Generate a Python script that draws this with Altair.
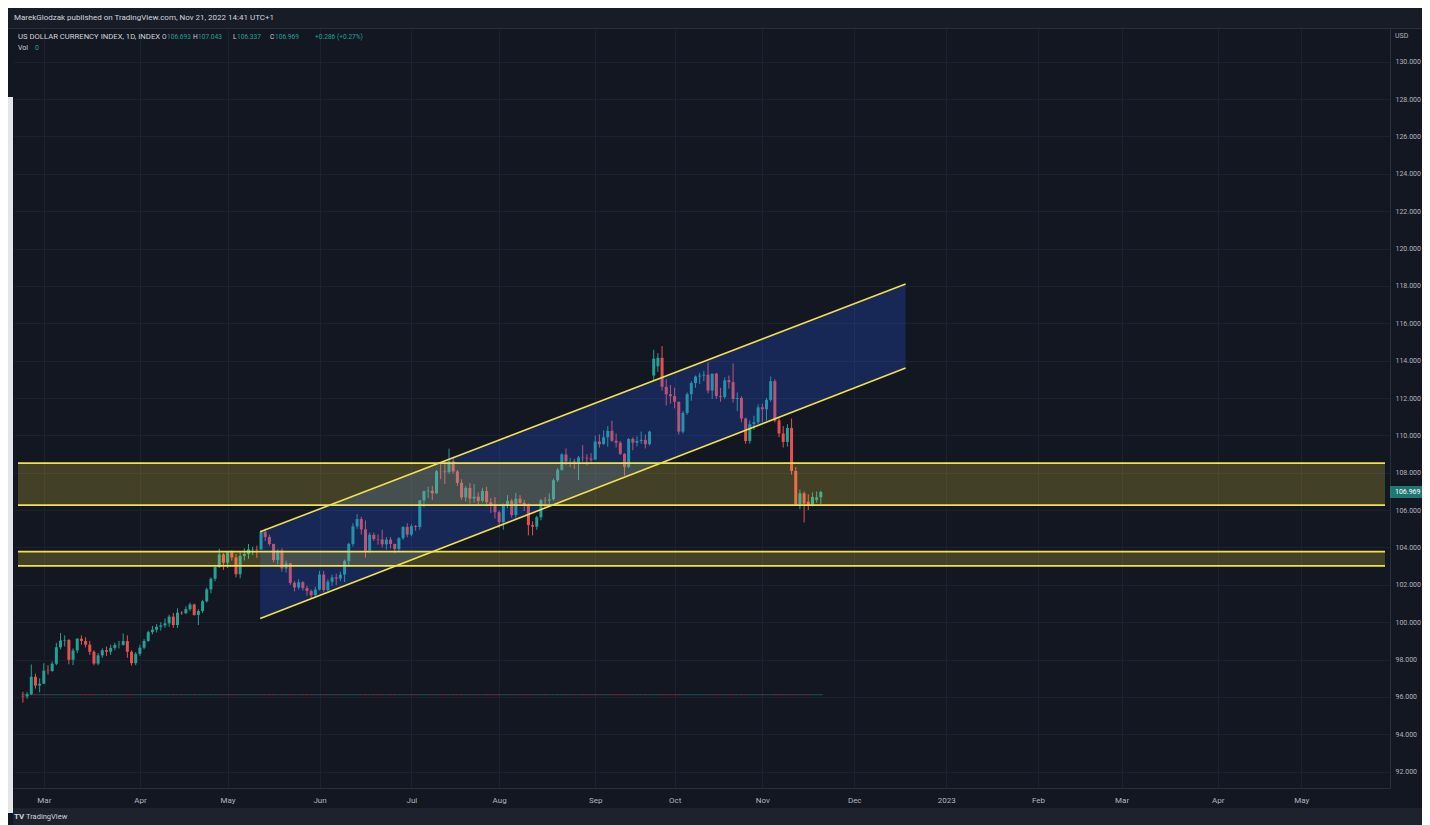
import altair as alt
import pandas as pd
import numpy as np

FONT = "Roboto"
BG = "#131722"
UP = "#23a194"
DOWN = "#e65150"
YEL = "#f2e24a"
TXT = "#b2b5be"
GRID = "#1c2030"
BORDER = "#2a2e39"

# ---------------- data: daily candles (open, high, low, close) ----------------
feb = [(96.05, 96.28, 95.70, 96.03), (96.03, 96.27, 95.90, 96.15), (96.15, 97.74, 96.10, 97.08),
       (97.08, 97.25, 96.45, 96.61), (96.61, 97.00, 96.25, 96.71)]
mar = [(96.71, 97.80, 96.70, 97.41), (97.41, 97.70, 97.20, 97.39), (97.39, 97.90, 97.35, 97.78),
       (97.78, 98.90, 97.70, 98.66), (98.66, 99.42, 98.55, 99.02), (99.02, 99.30, 98.70, 99.05),
       (99.05, 99.10, 97.75, 97.99), (97.99, 98.60, 97.70, 98.49), (98.49, 99.15, 98.35, 99.12),
       (99.12, 99.30, 98.80, 99.00), (99.00, 99.20, 98.65, 98.80), (98.80, 99.00, 98.25, 98.42),
       (98.42, 98.50, 97.70, 97.79), (97.79, 98.35, 97.70, 98.23), (98.23, 98.60, 98.10, 98.50),
       (98.50, 98.70, 98.20, 98.42), (98.42, 98.80, 98.25, 98.63), (98.63, 98.90, 98.50, 98.78),
       (98.78, 99.00, 98.60, 98.79), (98.79, 99.40, 98.75, 98.99), (98.99, 99.30, 98.10, 98.42),
       (98.42, 98.50, 97.68, 97.81), (97.81, 98.40, 97.70, 98.31)]
apr = [(98.31, 98.80, 98.20, 98.64), (98.64, 99.10, 98.55, 99.00), (99.00, 99.55, 98.95, 99.47),
       (99.47, 99.80, 99.35, 99.60), (99.60, 99.90, 99.45, 99.76), (99.76, 100.00, 99.55, 99.83),
       (99.83, 100.20, 99.70, 99.94), (99.94, 100.40, 99.75, 100.30), (100.30, 100.50, 99.70, 99.85),
       (99.85, 100.75, 99.70, 100.51), (100.51, 100.60, 100.40, 100.48), (100.48, 100.85, 100.45, 100.70),
       (100.70, 101.05, 100.60, 100.95), (100.95, 101.00, 100.35, 100.39), (100.39, 100.70, 99.85, 100.60),
       (100.60, 101.20, 100.50, 101.12), (101.12, 101.85, 101.05, 101.76), (101.76, 102.40, 101.55, 102.33),
       (102.33, 103.05, 102.20, 102.95), (102.95, 103.93, 102.90, 103.63), (103.63, 103.70, 102.80, 103.19)]
may = [(103.19, 103.80, 102.90, 103.75), (103.75, 103.85, 103.30, 103.47), (103.47, 103.65, 102.40, 102.57),
       (102.57, 103.75, 102.35, 103.55), (103.55, 103.95, 103.30, 103.66), (103.66, 104.19, 103.40, 103.90),
       (103.90, 104.05, 103.60, 103.92), (103.92, 104.10, 103.45, 103.90), (103.90, 104.92, 103.85, 104.84),
       (104.84, 105.01, 104.35, 104.56), (104.56, 104.68, 104.10, 104.19), (104.19, 104.20, 103.20, 103.33),
       (103.33, 103.90, 103.10, 103.83), (103.83, 103.95, 102.70, 102.88), (102.88, 103.30, 102.65, 103.15),
       (103.15, 103.15, 102.00, 102.11), (102.11, 102.20, 101.65, 101.86), (101.86, 102.30, 101.75, 102.14),
       (102.14, 102.20, 101.70, 101.83), (101.83, 101.95, 101.43, 101.67), (101.67, 101.75, 101.30, 101.45),
       (101.45, 101.90, 101.30, 101.75)]
jun = [(101.75, 102.75, 101.70, 102.55), (102.55, 102.75, 101.60, 101.72), (101.72, 102.30, 101.65, 102.17),
       (102.17, 102.55, 101.95, 102.40), (102.40, 102.60, 102.00, 102.34), (102.34, 102.70, 102.20, 102.55),
       (102.55, 103.35, 102.15, 103.28), (103.28, 104.25, 103.00, 104.19), (104.19, 105.30, 104.05, 105.13),
       (105.13, 105.78, 105.00, 105.52), (105.52, 105.65, 104.70, 104.97), (104.97, 105.45, 103.45, 103.83),
       (103.83, 104.80, 103.70, 104.68), (104.68, 104.80, 104.35, 104.45), (104.45, 104.70, 104.15, 104.43),
       (104.43, 104.95, 104.00, 104.17), (104.17, 104.55, 103.90, 104.42), (104.42, 104.55, 103.95, 104.19),
       (104.19, 104.20, 103.70, 103.92), (103.92, 104.55, 103.80, 104.50), (104.50, 105.15, 104.40, 105.10),
       (105.10, 105.30, 104.55, 104.69)]
jul = [(104.69, 105.25, 104.60, 105.14), (105.14, 105.20, 104.90, 105.10), (105.10, 106.55, 104.95, 106.52),
       (106.52, 107.05, 106.15, 107.01), (107.01, 107.25, 106.65, 107.04), (107.04, 107.30, 106.55, 106.90),
       (106.90, 108.15, 106.85, 108.08), (108.08, 108.55, 107.65, 108.07), (108.07, 108.60, 107.40, 108.03),
       (108.03, 109.29, 107.95, 108.62), (108.62, 108.80, 107.95, 108.07), (108.07, 108.15, 107.30, 107.46),
       (107.46, 107.65, 106.55, 106.68), (106.68, 107.30, 106.45, 107.19), (107.19, 107.45, 106.35, 106.62),
       (106.62, 107.40, 106.40, 106.72), (106.72, 106.95, 106.30, 106.49), (106.49, 107.20, 106.40, 107.02),
       (107.02, 107.25, 106.20, 106.42), (106.42, 106.65, 105.85, 106.27), (106.27, 106.70, 105.55, 105.89)]
aug = [(105.89, 105.98, 105.05, 105.36), (105.36, 106.35, 104.95, 106.26), (106.26, 106.80, 106.10, 106.50),
       (106.50, 106.60, 105.60, 105.74), (105.74, 106.93, 105.55, 106.61), (106.61, 106.80, 106.30, 106.38),
       (106.38, 106.55, 105.95, 106.27), (106.27, 106.35, 104.65, 105.20), (105.20, 105.40, 104.65, 105.12),
       (105.12, 105.70, 104.95, 105.62), (105.62, 106.60, 105.45, 106.53), (106.53, 106.70, 106.15, 106.51),
       (106.51, 106.90, 106.20, 106.58), (106.58, 107.70, 106.50, 107.60), (107.60, 108.25, 107.50, 108.16),
       (108.16, 109.05, 108.10, 108.98), (108.98, 109.30, 108.40, 108.60), (108.60, 108.80, 108.30, 108.61),
       (108.61, 108.75, 108.20, 108.56), (108.56, 108.90, 107.60, 108.82), (108.82, 109.48, 108.60, 108.80),
       (108.80, 109.00, 108.40, 108.76), (108.76, 109.05, 108.55, 108.70)]
sep = [(108.70, 109.99, 108.70, 109.67), (109.67, 110.05, 109.35, 109.53), (109.53, 110.27, 109.50, 109.90),
       (109.90, 110.50, 109.40, 110.24), (110.24, 110.79, 109.65, 109.71), (109.71, 110.10, 109.35, 109.61),
       (109.61, 109.70, 108.95, 109.01), (109.01, 109.05, 107.85, 108.32), (108.32, 109.85, 108.25, 109.81),
       (109.81, 109.90, 109.20, 109.61), (109.61, 109.95, 109.40, 109.70), (109.70, 110.20, 109.55, 109.76),
       (109.76, 110.05, 109.30, 109.53), (109.53, 110.25, 109.45, 110.20), (113.20, 114.58, 112.95, 114.10),
       (113.70, 114.40, 113.40, 114.15), (114.15, 114.78, 112.40, 112.60), (112.60, 113.00, 111.60, 112.20),
       (112.20, 112.70, 111.70, 112.10)]
oct_ = [(112.10, 112.55, 111.45, 111.80), (111.80, 111.80, 110.05, 110.20), (110.20, 111.30, 110.10, 111.20),
        (111.20, 112.30, 111.10, 112.20), (112.20, 112.90, 111.85, 112.80), (112.80, 113.20, 112.55, 113.15),
        (113.15, 113.35, 112.75, 113.20), (113.20, 113.45, 112.90, 113.25), (113.25, 113.90, 112.25, 112.40),
        (112.40, 113.30, 111.95, 113.30), (113.30, 113.35, 111.95, 112.10), (112.10, 112.55, 111.80, 112.05),
        (112.05, 113.10, 111.95, 112.95), (112.95, 113.20, 112.50, 112.85), (112.85, 113.85, 111.75, 111.95),
        (111.95, 112.30, 111.30, 112.00), (112.00, 112.10, 110.70, 110.90), (110.90, 110.95, 109.55, 109.70),
        (109.70, 110.80, 109.55, 110.60), (110.60, 111.05, 110.30, 110.70), (110.70, 111.65, 110.60, 111.50)]
nov = [(111.50, 111.70, 110.70, 111.40), (111.40, 112.00, 110.80, 111.90), (111.90, 113.15, 111.80, 112.90),
       (112.90, 113.00, 110.70, 110.80), (110.80, 111.00, 109.90, 110.10), (110.10, 110.50, 109.35, 109.65),
       (109.65, 110.60, 109.40, 110.40), (110.40, 110.90, 107.90, 108.10), (108.10, 108.30, 106.30, 106.30),
       (106.30, 107.10, 106.05, 106.90), (106.90, 107.00, 105.34, 106.35), (106.45, 106.85, 106.00, 106.25),
       (106.25, 106.95, 106.20, 106.70), (106.55, 107.00, 106.40, 106.68), (106.693, 107.043, 106.337, 106.969)]

FIRST_DAY = "2022-02-22"
LAST_DAY = "2023-06-30"
MISSING_DAYS = ["2022-09-21", "2022-09-22", "2022-09-23"]

month_starts = ["2022-03", "2022-04", "2022-05", "2022-06", "2022-07", "2022-08", "2022-09", "2022-10",
                "2022-11", "2022-12", "2023-01", "2023-02", "2023-03", "2023-04", "2023-05"]
month_labels = ["Mar", "Apr", "May", "Jun", "Jul", "Aug", "Sep", "Oct", "Nov", "Dec", "2023", "Feb",
                "Mar", "Apr", "May"]
y_ticks = [92, 94, 96, 98, 100, 102, 104, 106, 108, 110, 112, 114, 116, 118, 120, 122, 124, 126, 128, 130]

# drawings
chan_idx = [56.8, 211.3]
chan_upper = [104.84, 118.10]
chan_lower = [100.20, 113.60]
zone_lo = [106.27, 103.02]
zone_hi = [108.52, 103.78]
vol_level = 96.12

X_DOMAIN = [-1.18, 326.06]
Y_DOMAIN = [91.13, 131.80]

# ---------------- build tables ----------------
rows = [r for m in (feb, mar, apr, may, jun, jul, aug, sep, oct_, nov) for r in m]
days = [d for d in pd.bdate_range(FIRST_DAY, LAST_DAY) if d.strftime("%Y-%m-%d") not in MISSING_DAYS]
n = len(rows)
candles = pd.DataFrame({
    "idx": np.arange(n),
    "date": [d.strftime("%Y-%m-%d") for d in days[:n]],
    "o": [r[0] for r in rows],
    "h": [r[1] for r in rows],
    "l": [r[2] for r in rows],
    "c": [r[3] for r in rows],
})
candles["dir"] = np.where(candles["c"] >= candles["o"], "up", "down")
candles["vol"] = vol_level

ym = [d.strftime("%Y-%m") for d in days]
month_idx = [ym.index(m) for m in month_starts]
label_expr = "".join(f"datum.value == {i} ? '{lab}' : " for i, lab in zip(month_idx, month_labels)) + "''"

chan = pd.DataFrame({"idx": chan_idx, "upper": chan_upper, "lower": chan_lower})
zones = pd.DataFrame({"lo": zone_lo, "hi": zone_hi, "x0": X_DOMAIN[0], "x1": X_DOMAIN[1]})
zone_lines = pd.DataFrame({"level": zone_lo + zone_hi, "x0": X_DOMAIN[0], "x1": X_DOMAIN[1]})
last = pd.DataFrame({"p": [rows[-1][3]], "label": [f"{rows[-1][3]:.3f}"]})
one = pd.DataFrame({"a": [0]})

XS = alt.Scale(domain=X_DOMAIN, nice=False, zero=False)
YS = alt.Scale(domain=Y_DOMAIN, nice=False, zero=False)
XAX = alt.Axis(values=month_idx, labelExpr=label_expr, title=None, grid=True, gridColor=GRID,
               gridWidth=1, ticks=False, tickSize=0, domain=True, domainColor=BORDER,
               labelColor=TXT, labelFont=FONT, labelFontSize=8, labelPadding=12,
               labelBaseline="middle", labelAlign="center", orient="bottom",
               labelFlush=False, labelOverlap=False)
YAX = alt.Axis(values=y_ticks, format=".3f", orient="right", title=None, grid=True, gridColor=GRID,
               gridWidth=1, ticks=False, tickSize=0, domain=True, domainColor=BORDER,
               labelColor=TXT, labelFont=FONT, labelFontSize=7, labelPadding=5,
               labelAlign="left", labelBaseline="middle", labelFlush=False, labelOverlap=False)


def X(f):
    return alt.X(f, scale=XS, axis=XAX)


def Y(f):
    return alt.Y(f, scale=YS, axis=YAX)


color = alt.Color("dir:N", scale=alt.Scale(domain=["up", "down"], range=[UP, DOWN]), legend=None)


def box(x, x2, y, y2, col):
    return alt.Chart(one).mark_rect(color=col).encode(
        x=alt.value(x), x2=alt.value(x2), y=alt.value(y), y2=alt.value(y2))


def txt(s, x, y, col, size=7, weight="normal", align="left"):
    return alt.Chart(one).mark_text(text=s, align=align, baseline="middle", color=col, fontSize=size,
                                    font=FONT, fontWeight=weight).encode(x=alt.value(x), y=alt.value(y))


wicks = alt.Chart(candles).mark_rule(strokeWidth=1).encode(x=X("idx:Q"), y=Y("l:Q"), y2="h:Q", color=color)
bodies = alt.Chart(candles).mark_bar(size=3).encode(x=X("idx:Q"), y=Y("o:Q"), y2="c:Q", color=color)
vol = alt.Chart(candles).mark_tick(orient="horizontal", size=4, thickness=1, opacity=0.45).encode(
    x=X("idx:Q"), y=Y("vol:Q"), color=color)

chan_fill = alt.Chart(chan).mark_area(color="#2962ff", opacity=0.24).encode(
    x=X("idx:Q"), y=Y("lower:Q"), y2="upper:Q")
chan_up = alt.Chart(chan).mark_line(color=YEL, strokeWidth=1.6).encode(x=X("idx:Q"), y=Y("upper:Q"))
chan_lo = alt.Chart(chan).mark_line(color=YEL, strokeWidth=1.6).encode(x=X("idx:Q"), y=Y("lower:Q"))

zone_fill = alt.Chart(zones).mark_rect(color="#ffeb3b", opacity=0.2).encode(
    x=X("x0:Q"), x2="x1:Q", y=Y("lo:Q"), y2="hi:Q")
zone_rule = alt.Chart(zone_lines).mark_rule(color=YEL, strokeWidth=1.8).encode(
    x=X("x0:Q"), x2="x1:Q", y=Y("level:Q"))

price_box = alt.Chart(last).mark_tick(orient="horizontal", size=32, thickness=12, color=UP).encode(
    x=alt.value(1393), y=Y("p:Q"))
price_txt = alt.Chart(last).mark_text(align="left", baseline="middle", color="#ffffff", fontSize=7,
                                      font=FONT).encode(x=alt.value(1382), y=Y("p:Q"), text="label:N")

layers = [
    wicks, bodies, vol, chan_fill, zone_fill, chan_up, chan_lo, zone_rule,
    box(-5, 1409, -20, 0, "#181c27"),
    box(-5, 1409, 0, 1, BORDER),
    box(0, 1409, 780, 797, "#1e222d"),
    box(-5, 0, 69, 785, "#e4e5e7"),
    price_box, price_txt,
    txt("MarekGlodzak published on TradingView.com, Nov 21, 2022 14:41 UTC+1", 1, -10, "#d1d4dc", 8),
    txt("US DOLLAR CURRENCY INDEX, 1D, INDEX", 5, 9, "#d1d4dc", 7.7),
    txt("O", 149, 9, "#d1d4dc", 6.6), txt("106.693", 154, 9, UP, 6.6),
    txt("H", 180, 9, "#d1d4dc", 6.6), txt("107.043", 185, 9, UP, 6.6),
    txt("L", 220, 9, "#d1d4dc", 6.6), txt("106.337", 224, 9, UP, 6.6),
    txt("C", 257, 9, "#d1d4dc", 6.6), txt("106.969", 262, 9, UP, 6.6),
    txt("+0.286 (+0.27%)", 302, 9, UP, 6.6),
    txt("Vol", 5, 20, "#d1d4dc", 7), txt("0", 22, 20, UP, 7),
    txt("USD", 1382, 8, TXT, 7),
    txt("TV", 1, 789, "#d1d4dc", 8, "bold"),
    txt("TradingView", 13, 789, "#d1d4dc", 7.5),
]

chart = alt.layer(*layers).properties(
    width=1377, height=760,
    padding={"left": 5, "top": 20, "right": 32, "bottom": 37},
    autosize=alt.AutoSizeParams(type="none"),
).configure(background=BG).configure_view(stroke=None)

chart.save("out.html", embed_options={"renderer": "svg", "actions": False})
